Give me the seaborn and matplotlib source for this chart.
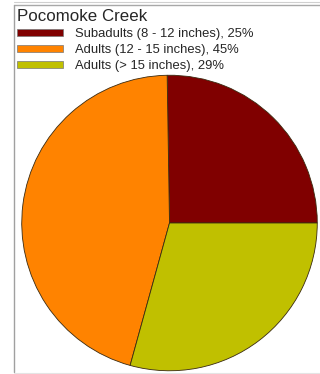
import matplotlib
matplotlib.use("Agg")
import matplotlib.pyplot as plt
import seaborn as sns
from matplotlib.patches import Rectangle
from matplotlib.lines import Line2D

title = "Pocomoke Creek"
categories = ["Subadults (8 - 12 inches)", "Adults (12 - 15 inches)", "Adults (> 15 inches)"]
percent = [25, 45, 29]
colors = ["#800000", "#FF8300", "#C0C000"]

sns.set_theme(style="white")
plt.rcParams['font.family'] = ['Liberation Sans', 'DejaVu Sans']

W, H = 320, 374
fig = plt.figure(figsize=(W / 100, H / 100), dpi=100)
fig.patch.set_facecolor("white")

# pie axes: center (169.5, 223) px from top, radius 148.5
cx, cy, r = 169.5, 223.0, 148.5
ax = fig.add_axes([(cx - r) / W, (H - cy - r) / H, 2 * r / W, 2 * r / H])
wedges, _ = ax.pie(percent, colors=colors, startangle=0, counterclock=True,
                   radius=1, wedgeprops=dict(edgecolor="#3a2a10", linewidth=0.6))
ax.set_xlim(-1.005, 1.005)
ax.set_ylim(-1.005, 1.005)
ax.set_aspect("equal")
ax.axis("off")

# frame lines
fig.add_artist(Line2D([13.5 / W, 1], [1 - 2 / H, 1 - 2 / H], color="#d0d0d0", lw=0.8, transform=fig.transFigure))
fig.add_artist(Line2D([13.5 / W, 1], [1 - 5 / H, 1 - 5 / H], color="#a8a8a8", lw=1.0, transform=fig.transFigure))
fig.add_artist(Line2D([13.5 / W, 13.5 / W], [2 / H, 1 - 5 / H], color="#a0a0a0", lw=1.0, transform=fig.transFigure))
fig.add_artist(Line2D([13.5 / W, 1], [1.5 / H, 1.5 / H], color="#e4e4e4", lw=0.8, transform=fig.transFigure))

handles = [Rectangle((0, 0), 1, 1, facecolor=c, edgecolor="#777777", linewidth=0.5) for c in colors]
labels = [f"{c}, {p}%" for c, p in zip(categories, percent)]
leg = fig.legend(handles, labels, title=title, loc="upper left",
                 bbox_to_anchor=(17 / W, 1 - 9 / H), frameon=False,
                 fontsize=9.4, title_fontsize=12.2, alignment="left",
                 handlelength=3.5, handleheight=0.4, handletextpad=0.95,
                 labelspacing=0.3, borderpad=0, borderaxespad=0)
leg._legend_box.sep = 3

fig.savefig("out.png", dpi=100, facecolor="white")
